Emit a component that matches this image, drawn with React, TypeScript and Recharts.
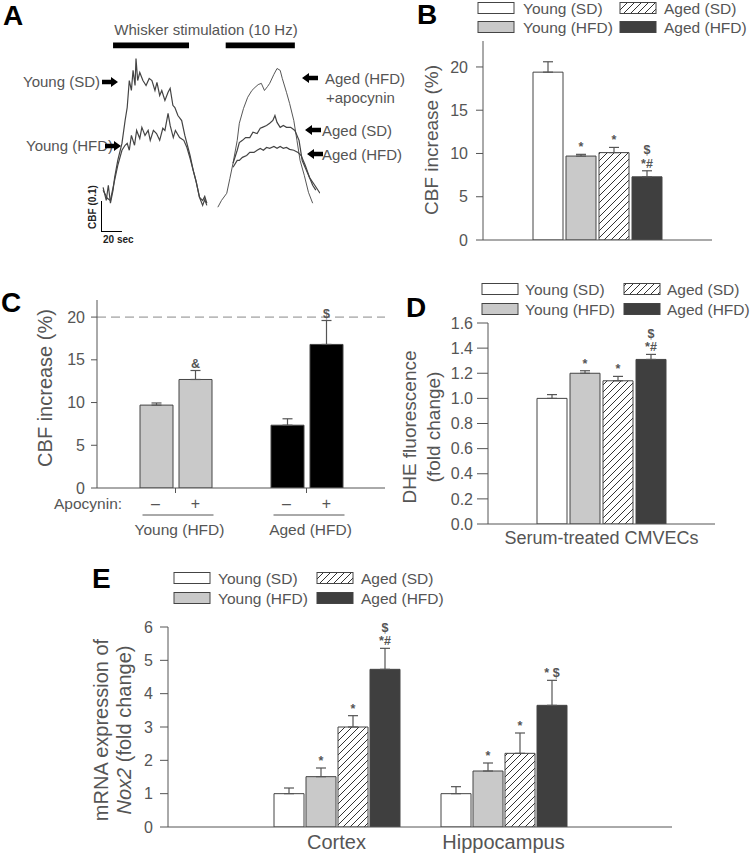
import React from 'react';
import {
  BarChart,
  Bar,
  Cell,
  XAxis,
  YAxis,
  ErrorBar,
  LabelList,
  ReferenceLine,
  ReferenceArea,
  LineChart,
  Line,
} from 'recharts';

const FONT = '"Liberation Sans", Arial, Helvetica, sans-serif';
const INK = '#555';
const BAR_EDGE = '#444';

// ---- groups shared by B, D, E ----
const groupNames = ['Young (SD)', 'Young (HFD)', 'Aged (SD)', 'Aged (HFD)'];
const groupFills = ['#ffffff', '#c9c9c9', 'url(#hatch)', '#3f3f3f'];

// ---- A: laser-Doppler traces, [time (s), CBF change] ----
const stimOn = [9.5, 117];
const stimOff = [82, 183];
const youngSdTrace: [number, number][] = [
  [0, 0.074], [3, 0.032], [5, 0.081], [7, 0.023], [9.5, 0.065], [11, 0.106], [14, 0.161],
  [18, 0.216], [21, 0.29], [23, 0.332], [25, 0.419], [27, 0.387], [28.6, 0.452], [30.5, 0.403],
  [31.4, 0.49], [33, 0.419], [35, 0.445], [38, 0.419], [41, 0.403], [44, 0.426], [46.6, 0.419],
  [49.5, 0.387], [51.4, 0.413], [54, 0.371], [56, 0.387], [59, 0.355], [62, 0.381], [64, 0.394],
  [66.6, 0.339], [68.5, 0.332], [71.4, 0.306], [75, 0.29], [78, 0.242], [80, 0.216], [83, 0.177],
  [86, 0.129], [88.5, 0.097], [92, 0.042], [95, 0.032], [97, 0.045], [99, 0.023],
];
const youngHfdTrace: [number, number][] = [
  [0, 0.065], [4, 0.039], [7, 0.032], [10, 0.081], [14, 0.145], [18, 0.194], [21, 0.21],
  [23, 0.216], [25, 0.194], [27, 0.242], [30, 0.21], [32, 0.258], [35, 0.232], [37, 0.268],
  [40, 0.242], [43, 0.258], [45, 0.226], [48, 0.258], [51, 0.248], [54, 0.226], [57, 0.265],
  [59, 0.258], [62, 0.313], [64, 0.274], [67, 0.235], [69, 0.258], [73, 0.235], [77, 0.226],
  [80, 0.203], [83, 0.168], [86, 0.129], [89, 0.09], [92, 0.042], [95, 0.016], [97, 0.035], [99, 0.016],
];
const agedApocyninTrace: [number, number][] = [
  [109.5, 0.01], [113, 0.032], [118, 0.055], [121, 0.103], [124, 0.152], [128, 0.226],
  [130, 0.281], [134, 0.329], [138, 0.365], [142, 0.387], [145, 0.397], [148, 0.406],
  [151, 0.41], [154, 0.387], [157, 0.4], [159, 0.41], [163, 0.439], [166, 0.458], [169, 0.452],
  [171, 0.426], [175, 0.381], [178, 0.345], [182, 0.29], [185, 0.226], [188, 0.161],
  [192, 0.113], [196, 0.058], [200, 0.023],
];
const agedSdTrace: [number, number][] = [
  [124, 0.152], [128, 0.194], [130, 0.219], [133, 0.226], [136, 0.235], [140, 0.235],
  [143, 0.252], [147, 0.248], [150, 0.265], [152, 0.268], [156, 0.274], [159, 0.281],
  [162, 0.29], [164, 0.306], [166, 0.284], [169, 0.268], [172, 0.274], [175, 0.268],
  [179, 0.268], [183, 0.258], [187, 0.226], [190, 0.161], [194, 0.129], [197, 0.106],
  [202, 0.081], [207, 0.055],
];
const agedHfdTrace: [number, number][] = [
  [124, 0.139], [128, 0.161], [130, 0.161], [133, 0.171], [137, 0.177], [140, 0.187],
  [144, 0.187], [147, 0.194], [150, 0.2], [153, 0.194], [156, 0.203], [159, 0.2],
  [163, 0.206], [166, 0.2], [169, 0.206], [172, 0.2], [175, 0.203], [178, 0.197],
  [182, 0.194], [186, 0.187], [189, 0.177], [193, 0.145], [197, 0.106], [200, 0.081], [203, 0.065],
];

// ---- B: CBF increase (%) ----
const cbfCategories = [''];
const cbfMean = [19.4, 9.7, 10.1, 7.3];
const cbfSem = [1.2, 0.2, 0.6, 0.7];
const cbfMarks = [[], ['*'], ['*'], ['$', '*#']];

// ---- C: apocynin ----
const apoCategories = ['Young (HFD)', 'Aged (HFD)'];
const apoWithout = [9.7, 7.35];
const apoWithoutSem = [0.25, 0.75];
const apoWith = [12.7, 16.8];
const apoWithSem = [1.05, 2.8];
const apoWithMarks = [['&'], ['$']];
const apoFills = ['#c9c9c9', '#000000'];

// ---- D: DHE fluorescence ----
const dheCategories = ['Serum-treated CMVECs'];
const dheMean = [1.0, 1.2, 1.14, 1.31];
const dheSem = [0.03, 0.02, 0.035, 0.04];
const dheMarks = [[], ['*'], ['*'], ['$', '*#']];

// ---- E: Nox2 mRNA ----
const noxCategories = ['Cortex', 'Hippocampus'];
const noxYoungSd = [1.0, 1.0];
const noxYoungSdSem = [0.17, 0.21];
const noxYoungHfd = [1.51, 1.68];
const noxYoungHfdSem = [0.26, 0.24];
const noxAgedSd = [3.0, 2.21];
const noxAgedSdSem = [0.34, 0.61];
const noxAgedHfd = [4.73, 3.65];
const noxAgedHfdSem = [0.63, 0.75];
const noxMarks = [
  [[], []],
  [['*'], ['*']],
  [['*'], ['*']],
  [['$', '*#'], ['* $']],
];

const toRows = (pts: [number, number][]) => pts.map(([t, v]) => ({ t, v }));

function buildRows(categories: string[], means: number[][], sems: number[][]) {
  return categories.map((name, ci) => {
    const row: any = { name };
    means.forEach((m, gi) => {
      row[`g${gi}`] = m[ci];
      row[`e${gi}`] = [0, sems[gi][ci]];
    });
    return row;
  });
}

// significance marks drawn above the error bar of each bar
const markContent = (means: number[], sems: number[], marks: string[][]) => (props: any) => {
  const vb = props.viewBox && props.viewBox.width != null ? props.viewBox : props;
  const { x, y, width, height } = vb;
  const i = props.index;
  const lines = marks[i] || [];
  if (!lines.length || !means[i]) return null;
  const top = y - (sems[i] * Math.abs(height)) / means[i];
  const cx = x + width / 2;
  const step = 13.5;
  const first = top - 3 - (lines.length - 1) * step;
  return (
    <text textAnchor="middle" fontSize={12.5} fontWeight="bold" fill={INK} fontFamily={FONT}>
      {lines.map((s, k) => (
        <tspan key={k} x={cx} y={first + k * step}>
          {s}
        </tspan>
      ))}
    </text>
  );
};

const TOP_ROOM = 40;

type PanelProps = {
  plotLeft: number;
  plotTop: number;
  plotWidth: number;
  plotHeight: number;
  yAxisWidth: number;
  xAxisHeight: number;
  categories: string[];
  means: number[][];
  sems: number[][];
  marks: string[][][];
  fills: string[];
  cellFills?: string[];
  yDomain: [number, number];
  yTicks: number[];
  yFmt?: (v: number) => string;
  yTickSize: number;
  yTickMargin: number;
  xPad: number;
  barSize: number;
  barGap: number;
  xTick?: any;
  xTickLine?: boolean;
  xTickSize?: number;
  xTickMargin?: number;
  children?: React.ReactNode;
};

const GroupedBars: React.FC<PanelProps> = (p) => {
  const rows = buildRows(p.categories, p.means, p.sems);
  return (
    <div style={{ position: 'absolute', left: p.plotLeft - p.yAxisWidth, top: p.plotTop - TOP_ROOM }}>
      <BarChart
        width={p.yAxisWidth + p.plotWidth}
        height={TOP_ROOM + p.plotHeight + p.xAxisHeight}
        data={rows}
        margin={{ top: TOP_ROOM, right: 0, bottom: 0, left: 0 }}
        barGap={p.barGap}
      >
        <XAxis
          dataKey="name"
          height={p.xAxisHeight}
          padding={{ left: p.xPad, right: p.xPad }}
          stroke={INK}
          tickLine={p.xTickLine ?? false}
          tickSize={p.xTickSize ?? 6}
          tickMargin={p.xTickMargin ?? 2}
          tick={p.xTick ?? false}
          interval={0}
        />
        <YAxis
          width={p.yAxisWidth}
          domain={p.yDomain}
          ticks={p.yTicks}
          interval={0}
          allowDataOverflow
          stroke={INK}
          tickSize={p.yTickSize}
          tickMargin={p.yTickMargin}
          tickFormatter={p.yFmt}
          tick={{ fill: INK, fontSize: 16, fontFamily: FONT }}
        />
        {p.children}
        {p.means.map((m, gi) => (
          <Bar
            key={gi}
            dataKey={`g${gi}`}
            fill={p.fills[gi]}
            stroke={BAR_EDGE}
            strokeWidth={1}
            barSize={p.barSize}
            isAnimationActive={false}
          >
            {p.cellFills && p.cellFills.map((c, ci) => <Cell key={ci} fill={c} />)}
            <ErrorBar dataKey={`e${gi}`} width={5} stroke={INK} strokeWidth={1.2} direction="y" />
            <LabelList dataKey={`g${gi}`} content={markContent(m, p.sems[gi], p.marks[gi])} />
          </Bar>
        ))}
      </BarChart>
    </div>
  );
};

// C x-axis: -/+ apocynin under each bar, underline and group name
const ApoTick = (props: any) => {
  const { x, y, payload } = props;
  return (
    <g fontFamily={FONT} fill={INK}>
      <text x={x - 20} y={y + 16} textAnchor="middle" fontSize={16}>–</text>
      <text x={x + 20} y={y + 16} textAnchor="middle" fontSize={16}>+</text>
      <line x1={x - 33} x2={x + 38} y1={y + 22} y2={y + 22} stroke={INK} strokeWidth={1} />
      <text x={x + 4} y={y + 42} textAnchor="middle" fontSize={15.5}>{payload.value}</text>
    </g>
  );
};

const Legend4: React.FC<{ rowY: [number, number]; box1: number; text1: number; box2: number; text2: number }> = ({
  rowY, box1, text1, box2, text2,
}) => (
  <g fontFamily={FONT} fontSize={15.5} fill={INK}>
    {groupNames.map((name, i) => {
      const col = i === 0 || i === 1 ? 0 : 1;
      const row = i === 0 || i === 2 ? 0 : 1;
      const bx = col === 0 ? box1 : box2;
      const tx = col === 0 ? text1 : text2;
      const cy = rowY[row];
      return (
        <g key={name}>
          <rect x={bx} y={cy - 5.5} width={36} height={11} fill={groupFills[i]} stroke={BAR_EDGE} strokeWidth={1} />
          <text x={tx} y={cy + 5.5}>{name}</text>
        </g>
      );
    })}
  </g>
);

const Arrow: React.FC<{ x: number; y: number; dir: 1 | -1 }> = ({ x, y, dir }) => {
  // x is the tip of the arrow
  const b = x - dir * 16;
  const h = x - dir * 7;
  return <polygon points={`${b},${y - 2.2} ${h},${y - 2.2} ${h},${y - 5} ${x},${y} ${h},${y + 5} ${h},${y + 2.2} ${b},${y + 2.2}`} fill="#000" />;
};

const RotText: React.FC<{ x: number; y: number; size: number; children: React.ReactNode }> = ({ x, y, size, children }) => (
  <text
    x={x}
    y={y}
    transform={`rotate(-90 ${x} ${y})`}
    textAnchor="middle"
    dominantBaseline="central"
    fontSize={size}
    fill={INK}
    fontFamily={FONT}
  >
    {children}
  </text>
);

const PanelLetter: React.FC<{ x: number; y: number; children: string }> = ({ x, y, children }) => (
  <text x={x} y={y} fontSize={28} fontWeight="bold" fill="#000" fontFamily={FONT}>{children}</text>
);

const traceColor = '#444';

export default function App() {
  const traces = [youngSdTrace, youngHfdTrace, agedApocyninTrace, agedSdTrace, agedHfdTrace];
  return (
    <div style={{ position: 'absolute', left: 0, top: 0, width: 752, height: 853, background: '#fff', fontFamily: FONT }}>
      <svg width={0} height={0} style={{ position: 'absolute' }}>
        <defs>
          <pattern id="hatch" patternUnits="userSpaceOnUse" width={7} height={7}>
            <rect width={7} height={7} fill="#fff" />
            <path d="M-1,1 l2,-2 M0,7 l7,-7 M6,8 l2,-2" stroke="#333" strokeWidth={1} />
          </pattern>
        </defs>
      </svg>

      {/* A */}
      <div style={{ position: 'absolute', left: 101, top: 40 }}>
        <LineChart width={219} height={192} margin={{ top: 0, right: 0, bottom: 0, left: 0 }}>
          <XAxis type="number" dataKey="t" domain={[-2, 207]} hide allowDataOverflow />
          <YAxis type="number" domain={[-0.07, 0.55]} hide allowDataOverflow />
          {stimOn.map((s, i) => (
            <ReferenceArea key={i} x1={s} x2={stimOff[i]} y1={0.523} y2={0.542} fill="#000" fillOpacity={1} stroke="none" />
          ))}
          {traces.map((tr, i) => (
            <Line
              key={i}
              data={toRows(tr)}
              dataKey="v"
              type="linear"
              dot={false}
              stroke={traceColor}
              strokeWidth={i === 2 ? 0.9 : 1.2}
              isAnimationActive={false}
            />
          ))}
          <ReferenceLine segment={[{ x: -2, y: -0.07 }, { x: -2, y: 0.03 }]} stroke="#000" strokeWidth={2} />
          <ReferenceLine segment={[{ x: -2, y: -0.07 }, { x: 18, y: -0.07 }]} stroke="#000" strokeWidth={2} />
        </LineChart>
      </div>

      {/* B */}
      <GroupedBars
        plotLeft={483}
        plotTop={41}
        plotWidth={229}
        plotHeight={199}
        yAxisWidth={60}
        xAxisHeight={8}
        categories={cbfCategories}
        means={cbfMean.map((v) => [v])}
        sems={cbfSem.map((v) => [v])}
        marks={cbfMarks.map((m) => [m])}
        fills={groupFills}
        yDomain={[0, 23]}
        yTicks={[0, 5, 10, 15, 20]}
        yTickSize={7}
        yTickMargin={8}
        xPad={0}
        barSize={30}
        barGap={3}
      />

      {/* C */}
      <GroupedBars
        plotLeft={97}
        plotTop={300}
        plotWidth={288}
        plotHeight={188}
        yAxisWidth={60}
        xAxisHeight={50}
        categories={apoCategories}
        means={[apoWithout, apoWith]}
        sems={[apoWithoutSem, apoWithSem]}
        marks={[[[], []], apoWithMarks]}
        fills={['#c9c9c9', '#c9c9c9']}
        cellFills={apoFills}
        yDomain={[0, 22]}
        yTicks={[0, 5, 10, 15, 20]}
        yTickSize={6}
        yTickMargin={6}
        xPad={13}
        barSize={33}
        barGap={6}
        xTick={<ApoTick />}
        xTickLine
        xTickSize={5}
        xTickMargin={0}
      >
        <ReferenceLine y={20} stroke="#888" strokeDasharray="9 5" strokeWidth={1} />
      </GroupedBars>

      {/* D */}
      <GroupedBars
        plotLeft={488}
        plotTop={323}
        plotWidth={227}
        plotHeight={201}
        yAxisWidth={70}
        xAxisHeight={35}
        categories={dheCategories}
        means={dheMean.map((v) => [v])}
        sems={dheSem.map((v) => [v])}
        marks={dheMarks.map((m) => [m])}
        fills={groupFills}
        yDomain={[0, 1.6]}
        yTicks={[0, 0.2, 0.4, 0.6, 0.8, 1.0, 1.2, 1.4, 1.6]}
        yFmt={(v) => v.toFixed(1)}
        yTickSize={11}
        yTickMargin={4}
        xPad={0}
        barSize={30}
        barGap={3}
        xTick={{ fill: INK, fontSize: 18, fontFamily: FONT }}
        xTickMargin={1}
      />

      {/* E */}
      <GroupedBars
        plotLeft={168}
        plotTop={627}
        plotWidth={504}
        plotHeight={200}
        yAxisWidth={40}
        xAxisHeight={30}
        categories={noxCategories}
        means={[noxYoungSd, noxYoungHfd, noxAgedSd, noxAgedHfd]}
        sems={[noxYoungSdSem, noxYoungHfdSem, noxAgedSdSem, noxAgedHfdSem]}
        marks={noxMarks}
        fills={groupFills}
        yDomain={[0, 6]}
        yTicks={[0, 1, 2, 3, 4, 5, 6]}
        yTickSize={8}
        yTickMargin={7}
        xPad={85}
        barSize={30}
        barGap={2}
        xTick={{ fill: INK, fontSize: 20, fontFamily: FONT }}
        xTickMargin={2}
      />

      {/* text, legends and arrows */}
      <svg width={752} height={853} style={{ position: 'absolute', left: 0, top: 0, pointerEvents: 'none' }}>
        <PanelLetter x={3} y={25}>A</PanelLetter>
        <PanelLetter x={417} y={24}>B</PanelLetter>
        <PanelLetter x={1} y={312}>C</PanelLetter>
        <PanelLetter x={406} y={317}>D</PanelLetter>
        <PanelLetter x={92} y={588}>E</PanelLetter>

        <g fontFamily={FONT} fontSize={15} fill={INK}>
          <text x={206} y={35} textAnchor="middle">Whisker stimulation (10 Hz)</text>
          <text x={23} y={87}>Young (SD)</text>
          <text x={26} y={151}>Young (HFD)</text>
          <text x={325} y={84}>Aged (HFD)</text>
          <text x={326} y={103}>+apocynin</text>
          <text x={322} y={136}>Aged (SD)</text>
          <text x={322} y={160}>Aged (HFD)</text>
        </g>
        <Arrow x={118} y={82} dir={1} />
        <Arrow x={121} y={146} dir={1} />
        <Arrow x={302} y={78} dir={-1} />
        <Arrow x={305} y={130} dir={-1} />
        <Arrow x={307} y={154} dir={-1} />
        <text
          x={92}
          y={207}
          transform="rotate(-90 92 207)"
          textAnchor="middle"
          dominantBaseline="central"
          fontSize={10}
          fontWeight="bold"
          fill="#222"
          fontFamily={FONT}
        >
          CBF (0.1)
        </text>
        <text x={103} y={243} fontSize={10} fontWeight="bold" fill="#222" fontFamily={FONT}>20 sec</text>

        <Legend4 rowY={[8, 27]} box1={478} text1={523} box2={620} text2={664} />
        <RotText x={431} y={140} size={19}>CBF increase (%)</RotText>

        <RotText x={45} y={388} size={20}>CBF increase (%)</RotText>
        <text x={54} y={509} fontSize={15.5} fill={INK} fontFamily={FONT}>Apocynin:</text>

        <Legend4 rowY={[289, 309]} box1={482} text1={525} box2={624} text2={667} />
        <RotText x={409} y={427} size={19}>DHE fluorescence</RotText>
        <RotText x={433} y={427} size={19}>(fold change)</RotText>

        <Legend4 rowY={[578, 598]} box1={174} text1={218} box2={317} text2={361} />
        <RotText x={101} y={730} size={20}>mRNA expression of</RotText>
        <RotText x={124} y={730} size={20}>
          <tspan fontStyle="italic">Nox2</tspan> (fold change)
        </RotText>
      </svg>
    </div>
  );
}
